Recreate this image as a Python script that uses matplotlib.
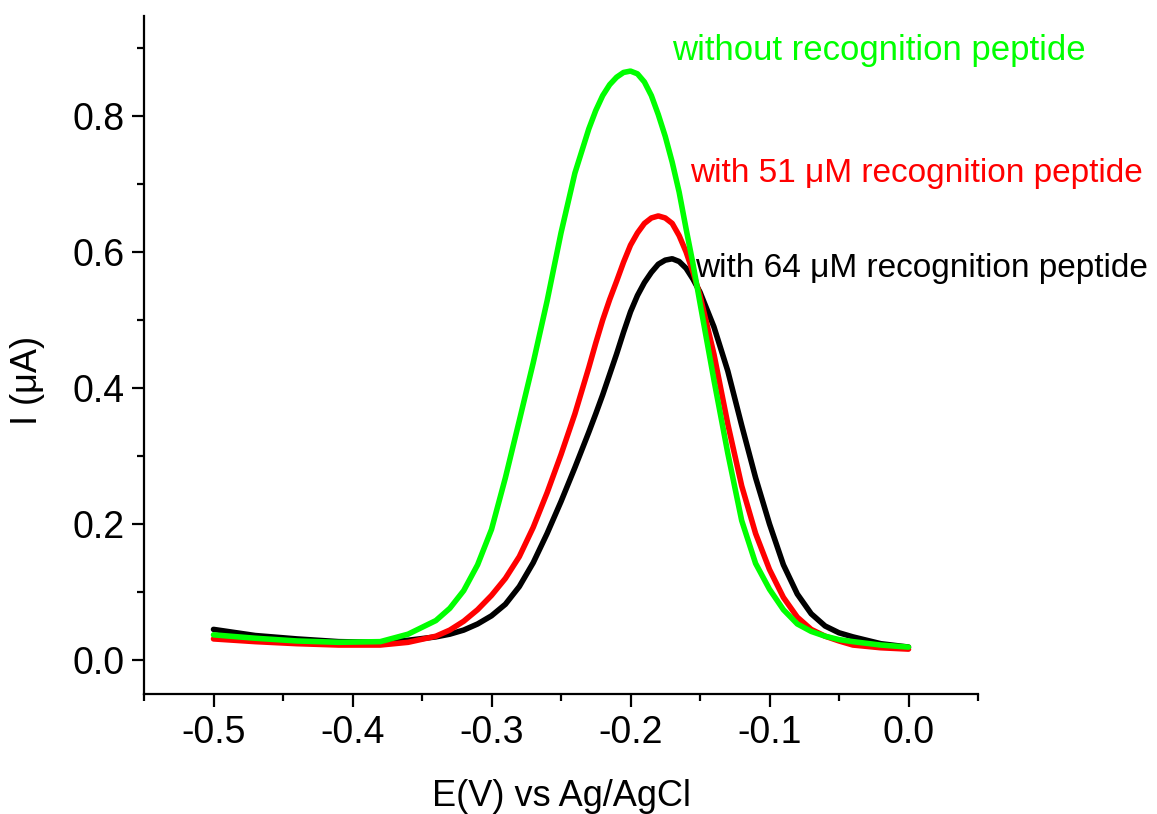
import numpy as np
import matplotlib
matplotlib.use("Agg")
import matplotlib.pyplot as plt
from matplotlib.ticker import MultipleLocator, FormatStrFormatter

plt.rcParams['font.family'] = ['Liberation Sans', 'DejaVu Sans']
plt.rcParams['axes.unicode_minus'] = False

# potential (V vs Ag/AgCl)
potential = [-0.50, -0.47, -0.44, -0.41, -0.38, -0.36, -0.34, -0.33, -0.32, -0.31,
             -0.30, -0.29, -0.28, -0.27, -0.26, -0.25, -0.24, -0.23, -0.225, -0.22,
             -0.215, -0.21, -0.205, -0.20, -0.195, -0.19, -0.185, -0.18, -0.175, -0.17,
             -0.165, -0.16, -0.155, -0.15, -0.14, -0.13, -0.12, -0.11,
             -0.10, -0.09, -0.08, -0.07, -0.06, -0.05, -0.04, -0.02, 0.00]

# current (uA)
i_without = [0.037, 0.032, 0.028, 0.026, 0.027, 0.038, 0.058, 0.076, 0.102, 0.140,
             0.192, 0.268, 0.352, 0.437, 0.528, 0.628, 0.716, 0.781, 0.808, 0.830,
             0.846, 0.857, 0.864, 0.866, 0.862, 0.850, 0.830, 0.802, 0.770, 0.732,
             0.688, 0.634, 0.582, 0.525, 0.412, 0.304, 0.205, 0.142,
             0.104, 0.074, 0.053, 0.042, 0.035, 0.030, 0.027, 0.022, 0.019]

i_51 = [0.031, 0.027, 0.024, 0.022, 0.022, 0.026, 0.035, 0.044, 0.057, 0.074,
        0.095, 0.120, 0.152, 0.195, 0.246, 0.302, 0.362, 0.430, 0.466, 0.500,
        0.530, 0.557, 0.585, 0.610, 0.628, 0.642, 0.650, 0.653, 0.650, 0.642,
        0.624, 0.600, 0.570, 0.536, 0.450, 0.347, 0.256, 0.186,
        0.133, 0.092, 0.063, 0.045, 0.035, 0.028, 0.022, 0.018, 0.016]

i_64 = [0.045, 0.036, 0.031, 0.027, 0.026, 0.029, 0.034, 0.038, 0.044, 0.053,
        0.065, 0.082, 0.108, 0.143, 0.186, 0.233, 0.283, 0.335, 0.362, 0.390,
        0.420, 0.450, 0.482, 0.512, 0.536, 0.555, 0.570, 0.582, 0.588, 0.590,
        0.586, 0.576, 0.560, 0.541, 0.490, 0.425, 0.345, 0.268,
        0.200, 0.140, 0.097, 0.068, 0.050, 0.040, 0.034, 0.024, 0.019]

labels = ["without recognition peptide",
          "with 51 \u03bcM recognition peptide",
          "with 64 \u03bcM recognition peptide"]

fig = plt.figure(figsize=(11.57, 8.14), dpi=100)
ax = fig.add_axes([144 / 1157, 1 - 694 / 814, (978 - 144) / 1157, (694 - 16) / 814])

ax.plot(potential, i_64, color='black', lw=4, solid_joinstyle='round', solid_capstyle='round')
ax.plot(potential, i_51, color='#ff0000', lw=4, solid_joinstyle='round', solid_capstyle='round')
ax.plot(potential, i_without, color='#00ff00', lw=4, solid_joinstyle='round', solid_capstyle='round')

ax.set_xlim(-0.55, 0.05)
ax.set_ylim(-0.05, 0.947)

for side in ['top', 'right']:
    ax.spines[side].set_visible(False)
for side in ['left', 'bottom']:
    ax.spines[side].set_linewidth(1.6)

ax.xaxis.set_major_locator(MultipleLocator(0.1))
ax.xaxis.set_minor_locator(MultipleLocator(0.05))
ax.yaxis.set_major_locator(MultipleLocator(0.2))
ax.yaxis.set_minor_locator(MultipleLocator(0.1))
ax.xaxis.set_major_formatter(FormatStrFormatter('%.1f'))
ax.yaxis.set_major_formatter(FormatStrFormatter('%.1f'))
ax.tick_params(which='major', direction='out', length=9, width=1.6, labelsize=27)
ax.tick_params(axis='x', which='major', pad=6)
ax.tick_params(axis='y', which='major', pad=5)
ax.tick_params(which='minor', direction='out', length=5, width=1.6)
ax.set_xticks([-0.5, -0.4, -0.3, -0.2, -0.1, 0.0])
ax.set_yticks([0.0, 0.2, 0.4, 0.6, 0.8])

ax.set_xlabel("E(V) vs Ag/AgCl", fontsize=26)
ax.set_ylabel("I (\u03bcA)", fontsize=26)
ax.xaxis.set_label_coords(0.5, -0.125)
ax.yaxis.set_label_coords(-0.119, 0.463)

# curve labels (the original runs them off the right edge; kept just inside here)
ax.text(-0.1698, 0.882, labels[0], color='#00ff00', fontsize=25, va='baseline')
ax.text(-0.1575, 0.703, labels[1], color='#ff0000', fontsize=24, va='baseline')
ax.text(-0.1535, 0.563, labels[2], color='black', fontsize=24, va='baseline')

fig.savefig("out.png", dpi=100)
